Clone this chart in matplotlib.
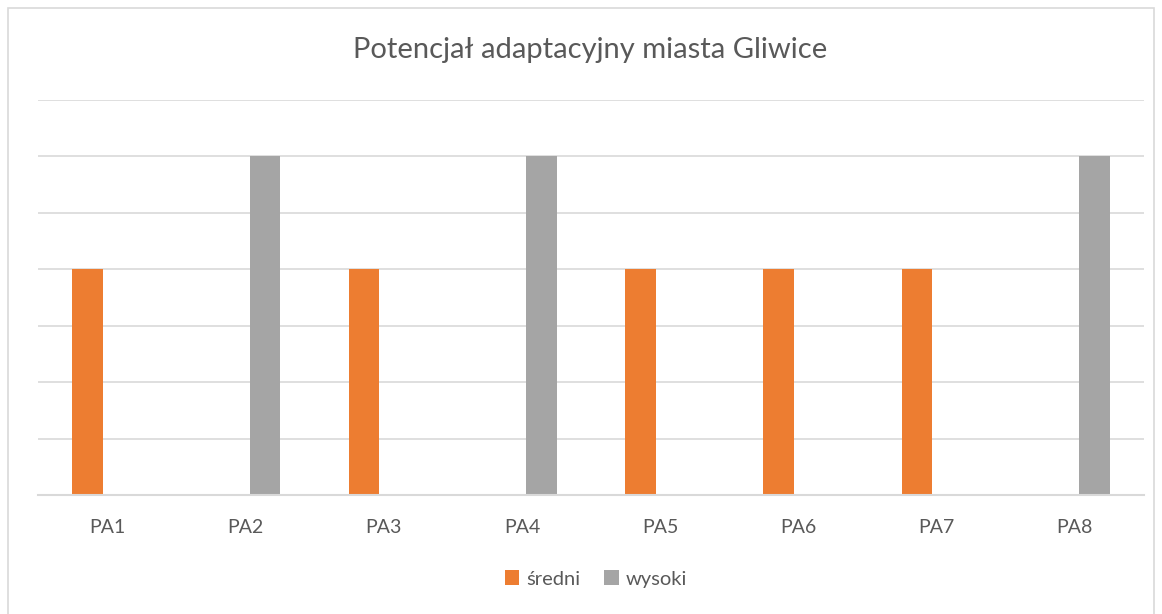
import matplotlib
matplotlib.use("Agg")
import matplotlib.pyplot as plt
import numpy as np
from matplotlib.patches import Rectangle

categories = ["PA1", "PA2", "PA3", "PA4", "PA5", "PA6", "PA7", "PA8"]
sredni = [4, 0, 4, 0, 4, 4, 4, 0]
wysoki = [0, 6, 0, 6, 0, 0, 0, 6]
series_names = ["średni", "wysoki"]
colors = ["#ED7D31", "#A5A5A5"]
title = "Potencjał adaptacyjny miasta Gliwice"

plt.rcParams['font.family'] = ['Lato', 'DejaVu Sans']

W, H = 1162, 614
fig = plt.figure(figsize=(W/100, H/100), dpi=100)
fig.patch.set_facecolor("white")

# outer chart border
fig.add_artist(Rectangle((8/W, -0.01), (1154-8)/W, (H-8)/H + 0.01, transform=fig.transFigure,
                         fill=False, edgecolor="#D9D9D9", linewidth=1.2))

ax = fig.add_axes([38/W, (H-495)/H, (1144-38)/W, (495-100)/H])
x = np.arange(len(categories))
w = 0.224
off = 0.142
ax.bar(x - off, sredni, width=w, color=colors[0], label=series_names[0], zorder=3)
ax.bar(x + off, wysoki, width=w, color=colors[1], label=series_names[1], zorder=3)

ax.set_xlim(-0.5, len(categories) - 0.5)
ax.set_ylim(0, 7)
ax.set_yticks(np.arange(0, 8, 1))
ax.yaxis.grid(True, color="#D9D9D9", linewidth=1.2, zorder=0)
ax.set_yticklabels([])
ax.tick_params(axis='y', length=0)
ax.set_xticks(x)
ax.set_xticklabels(categories, color="#595959", fontsize=14)
ax.tick_params(axis='x', length=0, pad=17)
for s in ["top", "right", "left"]:
    ax.spines[s].set_visible(False)
ax.spines["bottom"].set_color("#D9D9D9")
ax.spines["bottom"].set_linewidth(1.5)
ax.spines["bottom"].set_zorder(4)

fig.text(590/W, 1 - 50/H, title, ha="center", va="center", color="#595959", fontsize=21)

leg = fig.legend(loc="center", bbox_to_anchor=(596/W, 1 - 579/H), ncol=2, frameon=False,
                 fontsize=14.5, handlelength=0.7, handleheight=0.7, handletextpad=0.35,
                 columnspacing=1.2)
for t in leg.get_texts():
    t.set_color("#595959")

fig.savefig("out.png", dpi=100, facecolor="white")
